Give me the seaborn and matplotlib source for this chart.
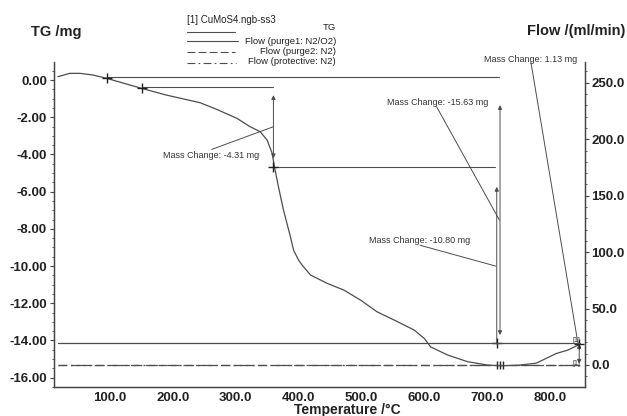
import matplotlib
matplotlib.use("Agg")
import matplotlib.pyplot as plt
import seaborn as sns
import pandas as pd
from matplotlib.lines import Line2D
from matplotlib.ticker import MultipleLocator, FormatStrFormatter

# TG curve (temperature /°C, mass /mg)
temp = [17, 36, 52, 73, 95, 150.6, 190, 243.5, 270, 302, 323, 339, 350, 358,
        361.6, 368, 376, 387, 392, 400, 405.7, 419, 445.6, 472, 498.7, 525,
        552, 584, 600, 610, 637, 669, 700.6, 722, 750, 778, 810, 828, 846.7]
tg = [0.18, 0.36, 0.36, 0.27, 0.09, -0.45, -0.81, -1.22, -1.58, -2.06, -2.51,
      -2.78, -3.23, -3.94, -4.66, -5.74, -6.99, -8.42, -9.14, -9.68, -9.95,
      -10.48, -10.93, -11.29, -11.83, -12.46, -12.9, -13.44, -13.89, -14.34,
      -14.78, -15.14, -15.32, -15.36, -15.33, -15.22, -14.7, -14.52, -14.22]

# gas flows /(ml/min)
flow_temp = [17, 848]
flow_purge1 = [19.5, 19.5]
flow_purge2 = [0.0, 0.0]
flow_protective = [0.0, 0.0]

# mass change evaluation: horizontal levels
level_t0 = [94.7, 150.4, 359.8]
level_t1 = [719.5, 359.8, 712.5]
level_mg = [0.18, -0.35, -4.66]

# vertical arrows
arrow_t = [360.0, 720.5, 715.3, 846.5]
arrow_top = [-0.81, -1.34, -5.74, -14.18]
arrow_bot = [-4.21, -13.71, -14.12, -15.25]
arrow_style = ["<|-|>", "<|-|>", "-|>", "<|-|>"]

# labels and leader lines
mc_labels = ["Mass Change: -4.31 mg", "Mass Change: -15.63 mg",
             "Mass Change: -10.80 mg", "Mass Change: 1.13 mg"]
mc_text_t = [260.7, 621.8, 593.2, 769.0]
mc_text_mg = [-4.07, -1.22, -8.61, 1.13]
lead_t0 = [261.8, 619.7, 593.2, 769.8]
lead_mg0 = [-3.73, -1.44, -8.88, 0.93]
lead_t1 = [359.8, 719.6, 713.6, 844.5]
lead_mg1 = [-2.51, -7.53, -10.0, -14.15]

# evaluation points
cross_t = [94.7, 150.4, 359.8, 715.0, 846.5]
cross_mg = [0.09, -0.45, -4.66, -14.13, -14.2]
peak_t = [715.6, 720.4, 725.2]
peak_mg = [-15.33, -15.33, -15.33]

# curve tags at the right end
tag_t = [848, 848]
tag_mg = [-14.02, -15.22]

legend_labels = ["TG", "Flow (purge1: N2/O2)", "Flow (purge2: N2)",
                 "Flow (protective: N2)"]

ink = "#4d4d4d"

sns.set_style("white")
plt.rcParams["font.family"] = ["Liberation Sans", "DejaVu Sans"]

fig = plt.figure(figsize=(6.27, 4.16), dpi=100)
ax = fig.add_axes([54 / 627, 1 - 387 / 416, 531 / 627, 325 / 416])
ax2 = ax.twinx()

df = pd.DataFrame({"temp": temp, "tg": tg})
sns.lineplot(data=df, x="temp", y="tg", ax=ax, color=ink, lw=0.9, sort=False)

for t0, t1, m in zip(level_t0, level_t1, level_mg):
    ax.plot([t0, t1], [m, m], color=ink, lw=0.8)

ax.scatter(cross_t, cross_mg, marker="+", s=45, color="#222222", lw=1.0, zorder=5)
ax.scatter(peak_t, peak_mg, marker="|", s=40, color="#222222", lw=1.0, zorder=5)

for t, top, bot, st in zip(arrow_t, arrow_top, arrow_bot, arrow_style):
    ax.annotate("", xy=(t, top), xytext=(t, bot),
                arrowprops=dict(arrowstyle=st, color=ink, lw=0.7,
                                mutation_scale=6, shrinkA=0, shrinkB=0))

for lab, tx, ty, a0, b0, a1, b1 in zip(mc_labels, mc_text_t, mc_text_mg,
                                       lead_t0, lead_mg0, lead_t1, lead_mg1):
    ax.text(tx, ty, lab, fontsize=6.5, color="#333333", ha="center", va="center",
            clip_on=False)
    ax.plot([a0, a1], [b0, b1], color=ink, lw=0.7, clip_on=False)

for t, m in zip(tag_t, tag_mg):
    ax.text(t, m, "[1]", fontsize=5, color="#333333", ha="right", va="center")

sns.lineplot(x=flow_temp, y=flow_purge1, ax=ax2, color=ink, lw=0.9)
sns.lineplot(x=flow_temp, y=flow_purge2, ax=ax2, color=ink, lw=0.9,
             linestyle=(0, (7, 3)))
sns.lineplot(x=flow_temp, y=flow_protective, ax=ax2, color=ink, lw=0.9,
             linestyle=(0, (7, 3, 1.5, 3)))

ax.set_xlim(10.9, 855.7)
ax.set_ylim(-16.5, 0.97)
ax2.set_ylim(-19.5, 268.4)

ax.xaxis.set_minor_locator(MultipleLocator(20))
ax.yaxis.set_minor_locator(MultipleLocator(0.5))
ax2.yaxis.set_minor_locator(MultipleLocator(10))
ax.set_xticks([100, 200, 300, 400, 500, 600, 700, 800])
ax.set_yticks([0, -2, -4, -6, -8, -10, -12, -14, -16])
ax2.set_yticks([0, 50, 100, 150, 200, 250])
ax.xaxis.set_major_formatter(FormatStrFormatter("%.1f"))
ax.yaxis.set_major_formatter(FormatStrFormatter("%.2f"))
ax2.yaxis.set_major_formatter(FormatStrFormatter("%.1f"))

for a in (ax, ax2):
    a.spines["top"].set_visible(False)
    for s in a.spines.values():
        s.set_color("#444444")
        s.set_linewidth(0.9)
    a.set_xlabel("")
    a.set_ylabel("")

ax.tick_params(axis="x", which="both", direction="in", color="#444444",
               labelsize=9.5, pad=3.5)
ax.tick_params(axis="x", which="major", length=3)
ax.tick_params(axis="x", which="minor", length=1.5)
ax.tick_params(axis="y", which="both", direction="out", left=True, color="#444444",
               labelsize=9.5, pad=2)
ax.tick_params(axis="y", which="major", length=3)
ax.tick_params(axis="y", which="minor", length=1.5)
ax2.tick_params(axis="y", which="both", direction="out", right=True, color="#444444",
                labelsize=9.5, pad=1.5)
ax2.tick_params(axis="y", which="major", length=3)
ax2.tick_params(axis="y", which="minor", length=1.5)
for lab in ax.get_xticklabels() + ax.get_yticklabels() + ax2.get_yticklabels():
    lab.set_fontweight("bold")
    lab.set_color("#222222")

fig.text(31 / 627, 1 - 32 / 416, "TG /mg", fontsize=10.5, fontweight="bold",
         color="#222222", va="center", ha="left")
fig.text(625 / 627, 1 - 31 / 416, "Flow /(ml/min)", fontsize=10.5, fontweight="bold",
         color="#222222", va="center", ha="right")
fig.text(347 / 627, 1 - 410 / 416, "Temperature /°C", fontsize=10,
         fontweight="bold", color="#222222", va="center", ha="center")

# legend block in the header
fig.text(187 / 627, 1 - 20 / 416, "[1] CuMoS4.ngb-ss3", fontsize=7,
         color="#222222", va="center", ha="left")
leg_text_y = [28, 41.5, 52, 62]
leg_line_y = [31.7, 40.7, 52.3, 62.7]
leg_line_x1 = [235, 238, 235, 236]
leg_styles = ["-", "-", (0, (7, 3)), (0, (7, 3, 1.5, 3))]
for lab, ty, ly, x1, ls in zip(legend_labels, leg_text_y, leg_line_y,
                               leg_line_x1, leg_styles):
    fig.add_artist(Line2D([187 / 627, x1 / 627], [1 - ly / 416, 1 - ly / 416],
                          color=ink, lw=0.8, linestyle=ls))
    fig.text(336 / 627, 1 - ty / 416, lab, fontsize=6.8, color="#222222",
             va="center", ha="right")

fig.savefig("out.png", dpi=100)
